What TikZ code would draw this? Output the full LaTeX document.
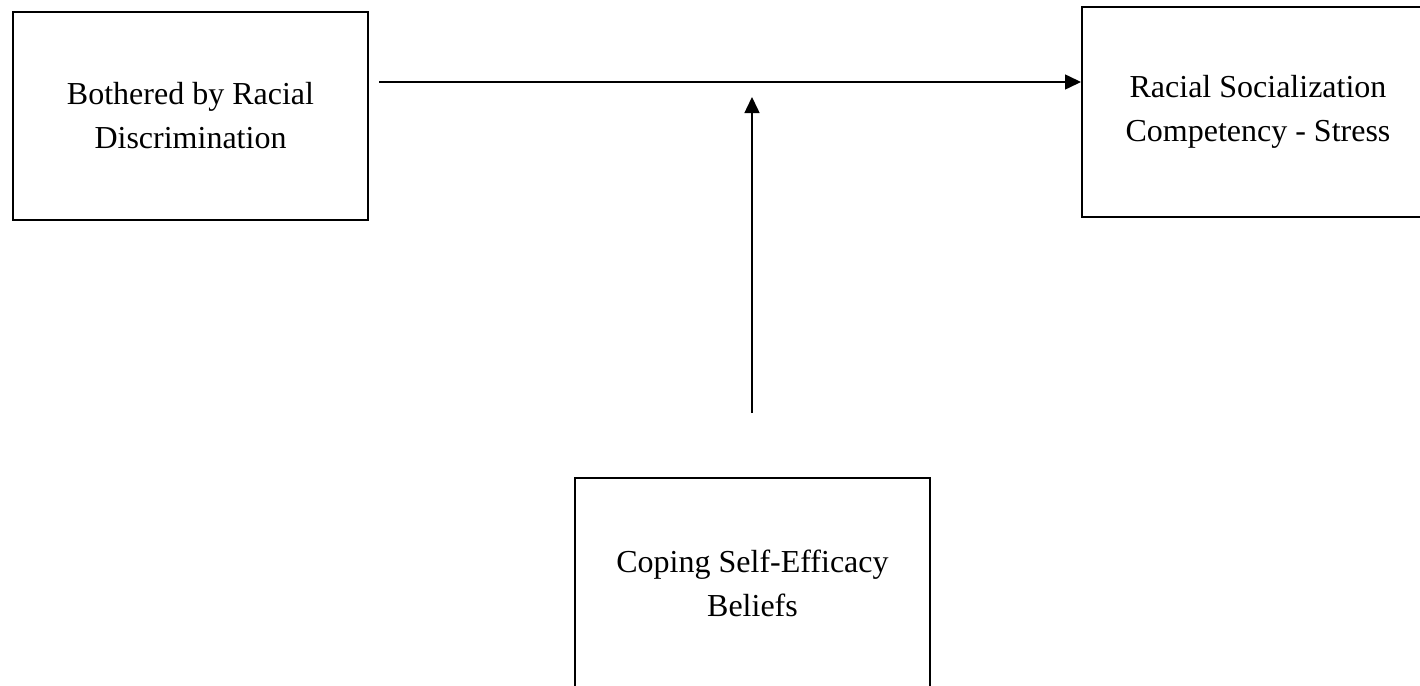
\documentclass[tikz,border=0pt]{standalone}
\usepackage{fontspec}
\setmainfont{Liberation Serif}
\usetikzlibrary{arrows.meta}
\begin{document}
\begin{tikzpicture}[x=1pt,y=-1pt,
  box/.style={draw,line width=2pt,inner sep=0pt,align=center,
    font=\fontsize{32}{44}\selectfont},
  conn/.style={line width=1.5pt,-{Triangle[length=16pt,width=15pt]}}]
\useasboundingbox (0,0) rectangle (1420,685);
\clip (0,0) rectangle (1420,685);
\node[box,minimum width=355pt,minimum height=208pt] (bother) at (190.5,116) {Bothered by Racial\\Discrimination};
\node[box,minimum width=352pt,minimum height=210pt] (stress) at (1258,112) {Racial Socialization\\Competency - Stress};
\node[box,minimum width=355pt,minimum height=210pt] (cope) at (752.5,583) {Coping Self-Efficacy\\Beliefs};
\coordinate (hstart) at (379,82);
\coordinate (vstart) at (752,413);
\coordinate (vend) at (752,97);
\draw[conn] (hstart) -- (hstart -| stress.west);
\draw[conn] (vstart) -- (vend);
\end{tikzpicture}
\end{document}
